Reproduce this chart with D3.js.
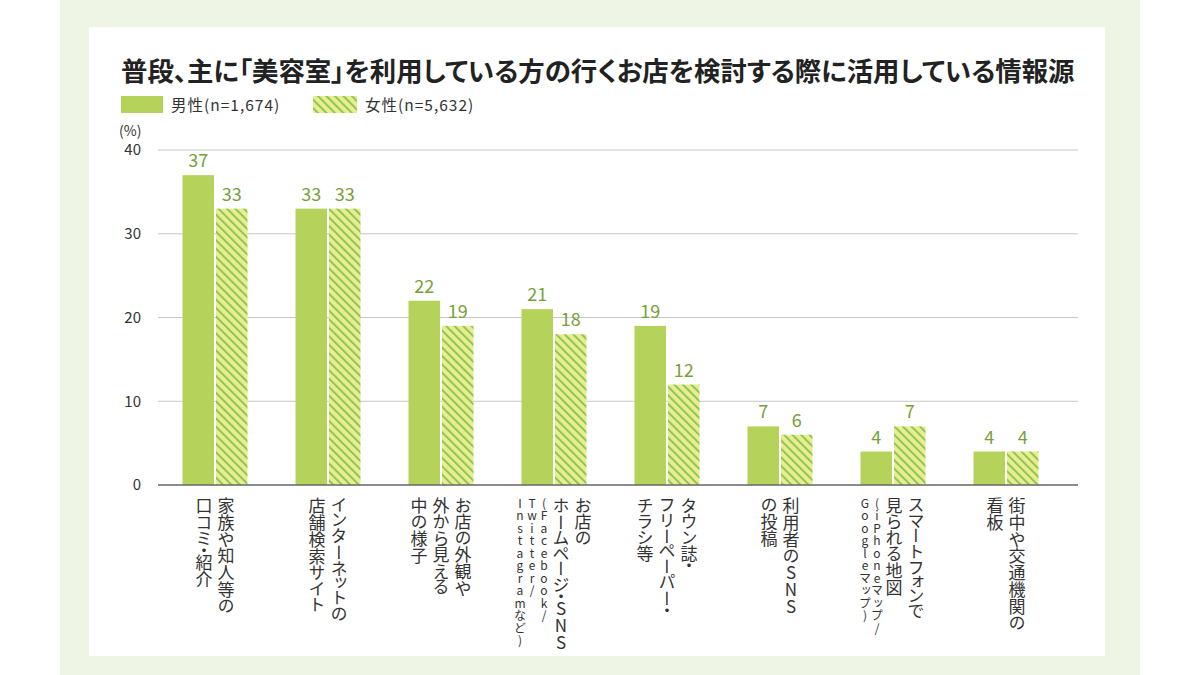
<!DOCTYPE html>
<html><head><meta charset="utf-8">
<script src="https://cdn.jsdelivr.net/npm/d3@7"></script>
<style>
html,body{margin:0;padding:0;background:#fff;}
svg{display:block;font-family:"Noto Sans CJK JP","Noto Sans",sans-serif;}
</style></head>
<body>
<svg id="c" width="1200" height="675"></svg>
<script>
const title = "普段、主に「美容室」を利用している方の行くお店を検討する際に活用している情報源";
const seriesNames = ["男性(n=1,674)", "女性(n=5,632)"];
const categories = [
  [{t:"家族や知人等の"},{t:"口コミ・紹介"}],
  [{t:"インターネットの"},{t:"店舗検索サイト"}],
  [{t:"お店の外観や"},{t:"外から見える"},{t:"中の様子"}],
  [{t:"お店の"},{t:"ホームページ・SNS"},{t:"(Facebook/",s:1},{t:"Twitter/",s:1},{t:"Instagramなど)",s:1}],
  [{t:"タウン誌・"},{t:"フリーペーパー・"},{t:"チラシ等"}],
  [{t:"利用者のSNS"},{t:"の投稿"}],
  [{t:"スマートフォンで"},{t:"見られる地図"},{t:"(iPhoneマップ/",s:1},{t:"Googleマップ)",s:1}],
  [{t:"街中や交通機関の"},{t:"看板"}]
];
const maleValues = [37, 33, 22, 21, 19, 7, 4, 4];
const femaleValues = [33, 33, 19, 18, 12, 6, 7, 4];
const yTicks = [0, 10, 20, 30, 40];

const svg = d3.select("#c");
const maleColor = "#b5d25a", hatchBg = "#e8ee8c", hatchLine = "#86c05a", labelColor = "#78a03a";

const defs = svg.append("defs");
const pat = defs.append("pattern").attr("id","hatch").attr("patternUnits","userSpaceOnUse")
  .attr("width",6).attr("height",6).attr("patternTransform","rotate(-45)");
pat.append("rect").attr("width",6).attr("height",6).attr("fill",hatchBg);
pat.append("rect").attr("x",0).attr("y",0).attr("width",1.8).attr("height",6).attr("fill",hatchLine);

// backgrounds
svg.append("rect").attr("x",60).attr("y",0).attr("width",1080).attr("height",675).attr("fill","#eef5e4");
svg.append("rect").attr("x",89).attr("y",27).attr("width",1016).attr("height",629).attr("fill","#fff");

const tt = svg.append("text").attr("x",121).attr("y",81).attr("font-size",25).attr("font-weight","bold")
  .style("font-feature-settings","'palt'")
  .attr("fill","#222").text(title);
const tl = tt.node().getComputedTextLength();
tt.attr("font-size", 25 * 954 / tl);

// legend
svg.append("rect").attr("x",121).attr("y",96).attr("width",42).attr("height",17).attr("fill",maleColor);
svg.append("text").attr("x",171).attr("y",111).attr("font-size",15.5).style("letter-spacing","1px").attr("fill","#333").text(seriesNames[0]);
svg.append("rect").attr("x",313).attr("y",96).attr("width",44).attr("height",17).attr("fill","url(#hatch)");
svg.append("text").attr("x",365).attr("y",111).attr("font-size",15.5).style("letter-spacing","1px").attr("fill","#333").text(seriesNames[1]);

svg.append("text").attr("x",119).attr("y",136).attr("font-size",14).attr("fill","#333").text("(%)");

const x = d3.scaleBand().domain(d3.range(categories.length)).range([158.5,1062.5]);
const y = d3.scaleLinear().domain([0,40]).range([485,150]);

const yAxis = d3.axisLeft(y).tickValues(yTicks).tickSize(0).tickPadding(0);
const gy = svg.append("g").attr("transform","translate(141,0)").call(yAxis);
gy.select(".domain").remove();
gy.selectAll("text").attr("font-size",15).attr("fill","#333").attr("font-family","'Noto Sans CJK JP',sans-serif");

svg.append("g").selectAll("line").data(yTicks.filter(d=>d>0)).join("line")
  .attr("x1",158).attr("x2",1078).attr("y1",d=>y(d)).attr("y2",d=>y(d))
  .attr("stroke","#c8c8c8").attr("stroke-width",1);

const bw = 31.5;
const cx = i => x(i) + x.bandwidth()/2;

svg.append("g").selectAll("rect").data(maleValues).join("rect")
  .attr("x",(d,i)=>cx(i)-bw-1).attr("width",bw)
  .attr("y",d=>y(d)).attr("height",d=>y(0)-y(d)).attr("fill",maleColor);
svg.append("g").selectAll("rect").data(femaleValues).join("rect")
  .attr("x",(d,i)=>cx(i)+1).attr("width",bw)
  .attr("y",d=>y(d)).attr("height",d=>y(0)-y(d)).attr("fill","url(#hatch)");

svg.append("g").selectAll("text").data(maleValues).join("text")
  .attr("x",(d,i)=>cx(i)-1-bw/2).attr("y",d=>y(d)-8).attr("text-anchor","middle")
  .attr("font-size",18).attr("fill",labelColor).text(d=>d);
svg.append("g").selectAll("text").data(femaleValues).join("text")
  .attr("x",(d,i)=>cx(i)+1+bw/2).attr("y",d=>y(d)-8).attr("text-anchor","middle")
  .attr("font-size",18).attr("fill",labelColor).text(d=>d);

svg.append("line").attr("x1",158).attr("x2",1078).attr("y1",y(0)).attr("y2",y(0))
  .attr("stroke","#666").attr("stroke-width",1.5);

// vertical category labels
categories.forEach((cols,i)=>{
  const widths = cols.map(c=>c.s?12:22);
  const total = d3.sum(widths);
  let right = cx(i) + total/2;
  cols.forEach((c,j)=>{
    const w = widths[j];
    const colX = right - w/2;
    right -= w;
    svg.append("text")
      .attr("x",colX).attr("y",497)
      .attr("font-size",c.s?12:17)
      .attr("fill","#333")
      .style("writing-mode","vertical-rl")
      .style("text-orientation","upright")
      .style("font-feature-settings", c.s ? "normal" : "'vpal'")
      .style("letter-spacing", c.s?"0.5px":"0px")
      .text(c.t);
  });
});
</script>
</body></html>
